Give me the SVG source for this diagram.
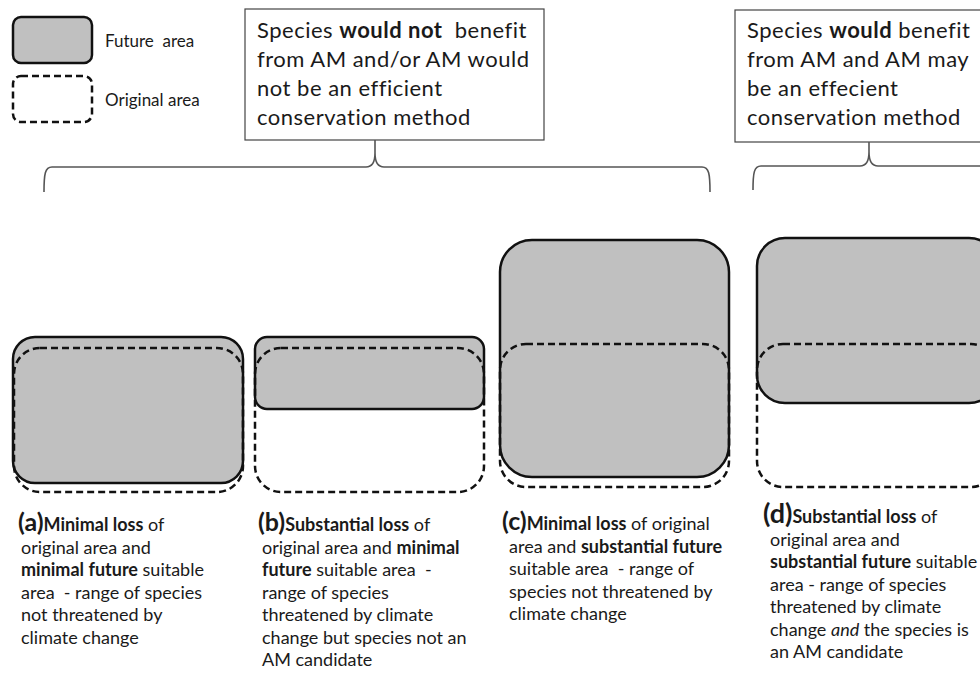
<svg xmlns="http://www.w3.org/2000/svg" width="980" height="673" viewBox="0 0 980 673" xml:space="preserve">
<style>
.t{font-family:Lato,"Open Sans","Liberation Sans",sans-serif;fill:#1a1a1a;white-space:pre}
.box{font-size:22px;letter-spacing:0.5px}
.lab{font-size:18px}
.leg{font-size:17px}
.big{font-size:25px;font-weight:bold}
.b{font-weight:bold}
.i{font-style:italic}
.fut{fill:#c0c0c0;stroke:#111;stroke-width:2.5}
.org{fill:none;stroke:#111;stroke-width:2.5;stroke-dasharray:7 4}
.br{fill:none;stroke:#555;stroke-width:1.6}
.cb{fill:#fff;stroke:#444;stroke-width:1.2}
</style>
<rect width="980" height="673" fill="#fff"/>
<g id="legend">
<rect class="fut" x="13" y="17" width="79" height="46" rx="8"/>
<text class="t leg" x="105" y="47">Future  area</text>
<rect class="org" x="13" y="76" width="79" height="46" rx="8"/>
<text class="t leg" x="105" y="106">Original area</text>
</g>
<g id="category-not">
<rect class="cb" x="245" y="9" width="299" height="131"/>
<text class="t box" x="257" y="38">Species <tspan class="b">would not</tspan>  benefit</text>
<text class="t box" x="257" y="67">from AM and/or AM would</text>
<text class="t box" x="257" y="96">not be an efficient</text>
<text class="t box" x="257" y="125">conservation method</text>
</g>
<g id="category-would">
<rect class="cb" x="735" y="10" width="260" height="132"/>
<text class="t box" x="747" y="38">Species <tspan class="b">would</tspan> benefit</text>
<text class="t box" x="747" y="67">from AM and AM may</text>
<text class="t box" x="747" y="96">be an effecient</text>
<text class="t box" x="747" y="125">conservation method</text>
</g>
<g id="connectors">
<path class="br" d="M44,192 C44,174 45,167 52,167 L366,167 C372,167 375,163 375,153 L375,140 M375,153 C375,163 378,167 384,167 L702,167 C709,167 710,174 710,192"/>
<path class="br" d="M753,190 C753,173 754,166 761,166 L860,166 C866,166 869,162 869,152 L869,142 M869,152 C869,162 872,166 878,166 L985,166"/>
</g>
<g id="a">
<rect class="fut" x="13" y="337" width="230" height="146" rx="22"/>
<rect class="org" x="14" y="348" width="229" height="144" rx="26"/>
<text class="t lab" x="18" y="531"><tspan class="big">(a)</tspan><tspan class="b">Minimal loss</tspan> of</text>
<text class="t lab" x="21" y="553.5">original area and</text>
<text class="t lab" x="21" y="576"><tspan class="b">minimal future</tspan> suitable</text>
<text class="t lab" x="21" y="598.5">area  - range of species</text>
<text class="t lab" x="21" y="621">not threatened by</text>
<text class="t lab" x="21" y="643.5">climate change</text>
</g>
<g id="b">
<rect class="fut" x="255" y="337" width="229" height="72" rx="12"/>
<rect class="org" x="255" y="348" width="229" height="144" rx="26"/>
<text class="t lab" x="258" y="531"><tspan class="big">(b)</tspan><tspan class="b">Substantial loss</tspan> of</text>
<text class="t lab" x="262" y="553.5">original area and <tspan class="b">minimal</tspan></text>
<text class="t lab" x="262" y="576"><tspan class="b">future</tspan> suitable area  -</text>
<text class="t lab" x="262" y="598.5">range of species</text>
<text class="t lab" x="262" y="621">threatened by climate</text>
<text class="t lab" x="262" y="643.5">change but species not an</text>
<text class="t lab" x="262" y="666">AM candidate</text>
</g>
<g id="c">
<rect class="fut" x="500" y="240" width="229" height="237" rx="32"/>
<rect class="org" x="500" y="344" width="229" height="143" rx="26"/>
<text class="t lab" x="502" y="530"><tspan class="big">(c)</tspan><tspan class="b">Minimal loss</tspan> of original</text>
<text class="t lab" x="509" y="552.5">area and <tspan class="b">substantial future</tspan></text>
<text class="t lab" x="509" y="575">suitable area  - range of</text>
<text class="t lab" x="509" y="597.5">species not threatened by</text>
<text class="t lab" x="509" y="620">climate change</text>
</g>
<g id="d">
<rect class="fut" x="757" y="238" width="240" height="165" rx="28"/>
<rect class="org" x="757" y="344" width="240" height="143" rx="26"/>
<text class="t lab" x="763" y="523"><tspan class="big" style="font-size:27px">(d)</tspan><tspan class="b">Substantial loss</tspan> of</text>
<text class="t lab" x="770" y="545.5">original area and</text>
<text class="t lab" x="770" y="568"><tspan class="b">substantial future</tspan> suitable</text>
<text class="t lab" x="770" y="590.5">area - range of species</text>
<text class="t lab" x="770" y="613">threatened by climate</text>
<text class="t lab" x="770" y="635.5">change <tspan class="i">and</tspan> the species is</text>
<text class="t lab" x="770" y="658">an AM candidate</text>
</g>
</svg>
